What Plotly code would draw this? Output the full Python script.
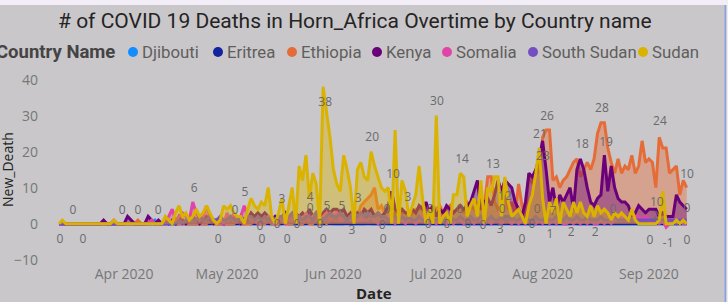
import pandas as pd
import plotly.graph_objects as go

START = "2020-03-13"

countries = ["Djibouti", "Eritrea", "Ethiopia", "Kenya", "Somalia", "South Sudan", "Sudan"]
colors = ["#118DFF", "#12239E", "#E66C37", "#6B007B", "#E044A7", "#744EC2", "#D9B300"]

djibouti = [
    0,0,0,0,0,0,0,0,0,0, 0,0,0,0,0,0,0,0,0,0, 0,0,0,0,0,0,0,0,1,0,
    0,0,0,0,0,0,1,0,0,0, 0,0,0,0,0,1,0,0,0,0, 0,0,0,0,0,1,0,0,0,0,
    2,0,0,0,0,0,1,0,0,0, 0,0,0,3,0,0,0,0,0,2, 0,0,0,0,1,0,0,0,0,0,
    3,0,0,0,0,2,0,0,0,0, 0,0,1,0,0,0,0,0,1,0, 0,0,0,0,0,1,0,0,0,0,
    0,0,0,0,0,0,0,0,0,0, 2,2,0,0,0,0,0,0,0,0, 0,0,0,0,0,0,0,0,0,0,
    1,0,0,0,0,0,0,0,0,0, 0,0,0,0,0,0,0,0,0,0, 0,0,0,0,0,1,0,0,0,0,
    0,0,0,0,
]
eritrea = [
    0,0,0,0,0,0,0,0,0,0, 0,0,0,0,0,0,0,0,0,0, 0,0,0,0,0,0,0,0,0,0,
    0,0,0,0,0,0,0,0,0,0, 0,0,0,0,0,0,0,0,0,0, 0,0,0,0,0,0,0,0,0,0,
    0,0,0,0,0,0,0,0,0,0, 0,0,0,0,0,0,0,0,0,0, 0,0,0,0,0,0,0,0,0,0,
    0,0,0,0,0,0,0,0,0,0, 0,0,0,0,0,0,0,0,0,0, 0,0,0,0,0,0,0,0,0,0,
    0,0,0,0,0,0,0,0,0,0, 0,0,0,0,0,0,0,0,0,0, 0,0,0,0,0,0,0,0,0,0,
    0,0,0,0,0,0,0,0,0,0, 0,0,0,0,0,0,0,0,0,0, 0,0,0,0,0,0,0,0,0,0,
    0,0,0,0,
]
ethiopia = [
    0,0,0,0,0,0,0,0,0,0, 0,0,0,0,0,0,0,0,0,0, 0,0,0,1,0,0,0,1,0,0,
    0,0,0,1,0,0,0,0,0,0, 0,0,0,0,1,0,0,0,0,0, 0,0,1,0,0,0,0,1,0,0,
    0,1,0,0,0,1,0,0,0,1, 0,0,1,0,0,2,0,1,0,1, 2,1,3,2,1,2,3,2,5,6,
    7,8,10,4,5,3,4,2,3,4, 3,3,2,3,4,4,5,4,4,5, 4,5,3,4,5,3,4,5,3,6,
    5,4,6,4,5,13,13,6,4,5, 8,4,6,3,11,5,2,14,11,15, 14,24,26,26,12,13,10,12,13,15,
    17,18,13,15,17,15,18,25,28,28, 21,17,14,18,14,16,15,19,14,16, 23,17,18,17,10,24,21,21,14,15,
    16,8,12,10,
]
kenya = [
    0,0,0,0,0,0,0,0,0,0, 0,0,0,1,0,0,0,0,0,0, 2,1,0,0,0,0,2,1,0,1,
    0,1,0,1,0,2,1,0,1,2, 1,0,1,2,1,0,1,1,0,2, 1,2,1,0,1,1,3,2,3,2,
    3,2,1,2,1,2,3,1,2,3, 2,3,2,4,2,3,1,3,4,3, 4,4,3,4,2,3,1,3,2,4,
    3,4,2,3,2,3,5,9,4,3, 4,3,3,4,3,5,4,6,3,5, 2,4,3,5,4,3,4,5,4,5,
    6,9,12,4,6,7,5,8,12,9, 12,11,10,6,4,2,6,14,13,15, 18,23,15,6,10,4,8,6,8,10,
    4,15,18,15,10,6,5,7,8,19, 9,16,10,7,6,6,5,2,3,5, 4,3,4,4,4,2,3,2,2,2,
    8,6,5,4,
]
somalia = [
    0,0,0,0,0,0,0,0,0,0, 0,0,0,0,0,0,1,0,0,0, 0,0,0,0,0,0,0,1,0,0,
    0,1,2,4,1,2,3,2,1,6, 3,1,2,5,2,1,1,1,0,3, 1,3,1,2,5,2,1,1,0,1,
    1,2,1,0,2,1,0,1,2,1, 2,1,3,1,2,3,1,2,3,1, 2,3,1,2,1,2,1,1,2,1,
    1,2,1,0,1,1,2,1,0,1, 1,0,1,1,0,1,2,1,0,1, 0,1,1,0,1,0,1,1,0,1,
    1,0,1,1,0,1,0,1,1,0, 1,1,0,1,0,1,0,1,1,0, 1,0,1,0,1,0,1,0,0,1,
    0,1,0,1,0,1,0,0,1,0, 1,0,1,1,2,1,2,1,2,2, 1,2,1,0,1,0,1,-1,0,1,
    0,1,0,0,
]
south_sudan = [
    0,0,0,0,0,0,0,0,0,0, 0,0,0,0,0,0,0,0,0,0, 0,0,0,0,0,0,0,0,0,0,
    0,0,0,0,0,1,0,1,1,1, 1,2,1,1,2,1,1,2,1,1, 2,1,1,2,1,2,2,1,2,1,
    2,1,2,1,2,2,1,2,3,1, 2,1,2,2,1,3,2,1,2,3, 2,2,3,2,1,2,3,2,3,2,
    3,2,2,3,2,2,1,2,2,1, 2,1,2,1,1,2,1,1,2,1, 1,2,1,1,2,1,1,2,1,1,
    2,1,1,2,1,1,2,1,1,2, 1,1,2,1,1,2,1,1,1,2, 1,1,2,1,1,2,1,1,2,1,
    1,2,1,1,2,1,1,1,2,1, 1,1,2,1,1,1,2,1,1,1, 1,1,1,1,1,1,1,1,1,1,
    0,1,1,1,
]
sudan = [
    0,1,0,0,0,0,0,0,0,0, 0,0,0,0,0,0,1,0,0,0, 0,0,0,0,0,0,0,0,0,0,
    0,2,1,0,3,5,2,3,1,2, 4,2,3,5,3,1,0,1,5,4, 5,3,2,2,0,4,7,5,4,6,
    5,10,2,0,3,7,0,5,10,0, 16,12,19,7,14,11,0,38,31,24, 15,11,9,19,15,10,0,15,17,13,
    12,20,16,13,10,9,10,0,26,0, 12,9,2,5,8,16,7,0,4,0, 30,0,2,3,0,8,8,14,13,2,
    5,7,2,12,0,10,9,13,13,2, 13,6,2,3,4,2,0,5,8,14, 21,7,0,6,3,7,0,6,4,2,
    6,3,6,3,2,5,2,5,3,4, 3,1,3,2,3,2,1,4,1,0, 0,0,0,0,0,1,9,0,0,0,
    1,0,1,0,
]

series = [djibouti, eritrea, ethiopia, kenya, somalia, south_sudan, sudan]
for s in series:
    assert len(s) == len(sudan), len(s)

# data labels shown on the chart (day offset from start, anchor value, text)
label_day = [4.1, 0.3, 7.0, 18.4, 23.0, 28.9, 39.4, 54.2, 51.3, 46.4, 58.6, 59.2, 63.6, 65.0,
             66.5, 69.4, 73.2, 73.2, 76.1, 77.0, 77.6, 78.1, 82.5, 85.4, 87.2, 91.3, 94.2, 94.5,
             95.6, 97.4, 101.7, 110.2, 108.2, 107.6, 106.1, 111.1, 113.1, 117.5, 116.9, 116.9,
             119.2, 123.6, 126.5, 128.6, 129.2, 130.0, 135.0, 137.9, 139.4, 140.2, 142.3, 141.1,
             144.0, 143.1, 149.3, 152.5, 156.3, 158.3, 159.5, 161.5, 175.2, 174.3, 173.8, 172.3,
             177.6, 183.1, 183.1, 183.1]
label_val = [3.6, -4.4, -4.4, 3.6, 3.6, 3.6, 9.7, 8.6, 3.6, -4.4, -0.8, -4.4, -0.3, 6.7,
             -4.4, -0.3, 7.2, 4.2, -0.3, -4.4, 33.6, 4.7, 4.7, -1.9, 6.9, 23.9, -0.6, -4.4,
             3.9, 13.6, 7.2, 33.9, 3.9, -0.3, -4.4, -4.4, -0.3, 17.8, 3.9, -4.4,
             -0.3, -0.6, 16.4, -1.7, 3.9, 7.5, -4.4, -0.3, 3.9, 24.7, 29.7, 18.6,
             3.3, -3.1, -2.5, 21.9, -2.5, 31.7, 22.5, 3.9, 28.1, 5.8, 1.9, -4.7,
             -5.6, -4.7, 13.6, 4.2]
label_text = ["0", "0", "0", "0", "0", "0", "6", "5", "0", "0", "0", "0", "0", "3",
              "0", "0", "4", "0", "0", "0", "38", "5", "5", "3", "3", "20", "0", "0",
              "0", "10", "3", "30", "0", "0", "0", "0", "0", "14", "0", "0",
              "0", "0", "13", "3", "0", "12", "0", "0", "0", "21", "26", "23",
              "7", "1", "2", "18", "2", "28", "19", "0", "24", "10", "2", "0",
              "-1", "0", "10", "0"]

dates = pd.date_range(START, periods=len(sudan), freq="D")
label_x = pd.Timestamp(START) + pd.to_timedelta(label_day, unit="D")

W, H = 728, 302
ML, MR, MT, MB = 45, 28, 76, 38
PW, PH = W - ML - MR, H - MT - MB


def px(x):
    return (x - ML) / PW


def py(y):
    return (H - MB - y) / PH


def rgba(h, a):
    h = h.lstrip("#")
    return "rgba(%d,%d,%d,%.2f)" % (int(h[0:2], 16), int(h[2:4], 16), int(h[4:6], 16), a)


fig = go.Figure()
for name, vals, col in zip(countries, series, colors):
    fig.add_trace(go.Scatter(
        x=dates, y=vals, name=name, mode="lines",
        line=dict(color=col, width=3),
        fill="tozeroy", fillcolor=rgba(col, 0.4),
        showlegend=False,
    ))

fig.add_trace(go.Scatter(
    x=label_x, y=label_val, mode="text", text=label_text,
    textposition="middle center",
    textfont=dict(family="Open Sans", size=12, color="#6a6a6a"),
    cliponaxis=False, showlegend=False, hoverinfo="skip",
))

BG = "#c9c7ca"
annotations = [
    dict(text="# of COVID 19 Deaths in Horn_Africa Overtime by Country name",
         x=px(355), y=py(21), xref="paper", yref="paper", showarrow=False,
         xanchor="center", yanchor="middle",
         font=dict(family="Roboto", size=21, color="#252423")),
    dict(text="<b>Country Name</b>", x=px(117), y=py(52), xref="paper", yref="paper",
         showarrow=False, xanchor="right", yanchor="middle",
         font=dict(family="Roboto", size=18.5, color="#444444")),
    dict(text="New_Death", x=px(7), y=py(170), xref="paper", yref="paper",
         showarrow=False, textangle=-90, xanchor="center", yanchor="middle",
         font=dict(family="Open Sans", size=14, color="#252423")),
    dict(text="<b>Date</b>", x=px(374), y=py(293), xref="paper", yref="paper",
         showarrow=False, xanchor="center", yanchor="middle",
         font=dict(family="Open Sans", size=15, color="#252423")),
]
shapes = [
    dict(type="rect", xref="paper", yref="paper", x0=px(0), x1=px(W), y0=py(5), y1=py(0),
         fillcolor="#f2edf6", line=dict(width=0), layer="below"),
    dict(type="line", xref="paper", yref="paper", x0=px(725.5), x1=px(725.5), y0=py(5), y1=py(H),
         line=dict(color="#88a4dc", width=2)),
    dict(type="rect", xref="paper", yref="paper", x0=px(726.5), x1=px(W), y0=py(5), y1=py(H),
         fillcolor="#eeeaf2", line=dict(width=0)),
]
legend_marker_x = [133, 218, 292, 377, 447, 533, 643]
for name, col, mx in zip(countries, colors, legend_marker_x):
    shapes.append(dict(type="circle", xref="paper", yref="paper",
                       x0=px(mx - 5), x1=px(mx + 5), y0=py(57), y1=py(47),
                       fillcolor=col, line=dict(width=0)))
    annotations.append(dict(text=name, x=px(mx + 7), y=py(52), xref="paper", yref="paper",
                            showarrow=False, xanchor="left", yanchor="middle",
                            font=dict(family="Roboto", size=16.8, color="#605E5C")))

fig.update_layout(
    width=W, height=H,
    margin=dict(l=ML, r=MR, t=MT, b=MB, autoexpand=False),
    paper_bgcolor=BG, plot_bgcolor=BG,
    xaxis=dict(type="date", range=["2020-03-08 22:05", "2020-09-15 21:07"],
               dtick="M1", tick0="2020-04-01", tickformat="%b %Y",
               showgrid=False, zeroline=False, showline=False, ticks="",
               tickfont=dict(family="Open Sans", size=14, color="#777777")),
    yaxis=dict(range=[-11.2, 41], tickvals=[-10, 0, 10, 20, 30, 40],
               showgrid=False, zeroline=False, showline=False, ticks="",
               ticklabelstandoff=6,
               tickfont=dict(family="Open Sans", size=14, color="#777777")),
    annotations=annotations, shapes=shapes,
    showlegend=False,
)

fig.write_html(
    "out.html",
    config={"displayModeBar": False},
    post_script="document.body.style.margin='0px';document.body.style.overflow='hidden';",
)
